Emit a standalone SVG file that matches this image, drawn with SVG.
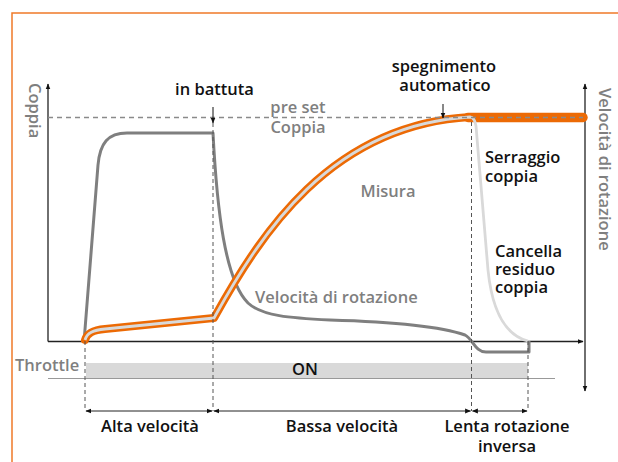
<svg xmlns="http://www.w3.org/2000/svg" width="618" height="462" viewBox="0 0 618 462">
  <defs>
    <marker id="ah" viewBox="0 0 10 10" refX="9" refY="5" markerWidth="6" markerHeight="6" orient="auto-start-reverse" markerUnits="userSpaceOnUse">
      <path d="M0,1 L10,5 L0,9 z" fill="#111"/>
    </marker>
    <style>
      text { font-family: "Open Sans", "Noto Sans", "Liberation Sans", sans-serif; font-weight: 600; font-size: 16.5px; }
      .dk { fill: #111; }
      .gy { fill: #7f7f7f; }
      .mid { text-anchor: middle; }
      .axis { stroke: #222; stroke-width: 1.3; fill: none; }
      .vdash { stroke: #555; stroke-width: 1; stroke-dasharray: 4 3; fill: none; }
      .dim { stroke: #222; stroke-width: 1; fill: none; marker-start: url(#ah); marker-end: url(#ah); }
    </style>
  </defs>
  <rect width="618" height="462" fill="#fff"/>
  <path d="M618,13 H12 V462" fill="none" stroke="#f07a28" stroke-width="1.5"/>

  <g id="axes">
    <line class="axis" x1="48" y1="341.5" x2="48" y2="84" marker-end="url(#ah)"/>
    <line class="axis" x1="48" y1="341.5" x2="583" y2="341.5" marker-end="url(#ah)"/>
    <line class="axis" x1="585" y1="84" x2="585" y2="391" marker-start="url(#ah)" marker-end="url(#ah)"/>
    <line x1="48" y1="378.5" x2="555" y2="378.5" stroke="#999" stroke-width="1"/>
  </g>

  <g id="throttle-bar">
    <rect x="86" y="363" width="442" height="15" fill="#d9d9d9"/>
  </g>

  <g id="curves">
    <path d="M84,342 L98,165 C100,143 108,133 127,133 L213,133 C217,210 225,280 248,303 C262,316 290,318 330,320 C400,322 445,328 465,335 C473,339 475,352 486,352 L529,352 L529,341" fill="none" stroke="#7f7f7f" stroke-width="3" stroke-linejoin="round"/>
    <path d="M85,340 C87,333 93,330 105,329 L214,318 C260,235 330,125 470,117 L583,117.5" fill="none" stroke="#ec6a05" stroke-width="8" stroke-linejoin="round" stroke-linecap="round"/>
    <line x1="468" y1="117.5" x2="583" y2="117.5" stroke="#ec6a05" stroke-width="9.5" stroke-linecap="round"/>
    <path d="M85,340 C87,333 93,330 105,329 L214,318 C260,235 330,125 470,117 C473,117 475,120 476,126 L488,270 C492,310 505,335 528,341" fill="none" stroke="#d9d9d9" stroke-width="2.8" stroke-linejoin="round"/>
  </g>

  <g id="guides">
    <line x1="48" y1="117.5" x2="583" y2="117.5" stroke="#8a8a8a" stroke-width="1.5" stroke-dasharray="5 4"/>
    <line class="vdash" x1="85" y1="341" x2="85" y2="411"/>
    <line class="vdash" x1="213" y1="123" x2="213" y2="411"/>
    <line class="vdash" x1="471.5" y1="122" x2="471.5" y2="411"/>
    <line class="vdash" x1="528" y1="341" x2="528" y2="411"/>
    <line x1="213" y1="107" x2="213" y2="123" stroke="#111" stroke-width="1" marker-end="url(#ah)"/>
    <line x1="443" y1="104" x2="443" y2="118" stroke="#111" stroke-width="1" marker-end="url(#ah)"/>
    <line class="dim" x1="86" y1="411" x2="212" y2="411"/>
    <line class="dim" x1="214" y1="411" x2="470.5" y2="411"/>
    <line class="dim" x1="472.5" y1="411" x2="527" y2="411"/>
  </g>

  <g id="labels">
    <text class="gy" transform="translate(29,83) rotate(90)">Coppia</text>
    <text class="gy" transform="translate(599,88) rotate(90)">Velocità di rotazione</text>
    <text class="dk mid" x="214.5" y="95">in battuta</text>
    <text class="dk mid" x="444" y="72">spegnimento</text>
    <text class="dk mid" x="445" y="91">automatico</text>
    <text class="gy mid" x="298" y="113">pre set</text>
    <text class="gy mid" x="298" y="133">Coppia</text>
    <text class="gy mid" x="388" y="197">Misura</text>
    <text class="dk" x="485" y="163">Serraggio</text>
    <text class="dk" x="485" y="182">coppia</text>
    <text class="dk" x="495" y="257">Cancella</text>
    <text class="dk" x="495" y="275">residuo</text>
    <text class="dk" x="495" y="293">coppia</text>
    <text class="gy" x="255" y="303">Velocità di rotazione</text>
    <text class="gy" x="15" y="371">Throttle</text>
    <text class="dk" x="292" y="375">ON</text>
    <text class="dk mid" x="150" y="432">Alta velocità</text>
    <text class="dk mid" x="342" y="432">Bassa velocità</text>
    <text class="dk mid" x="507" y="432">Lenta rotazione</text>
    <text class="dk mid" x="507" y="452">inversa</text>
  </g>
</svg>
